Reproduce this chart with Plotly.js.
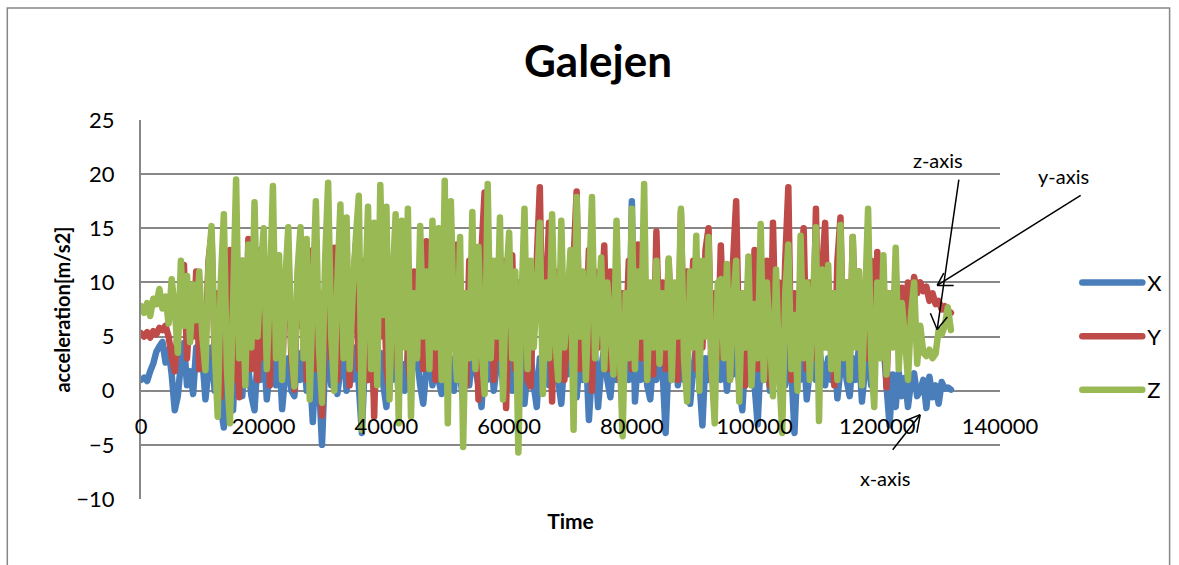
<!DOCTYPE html>
<html>
<head>
<meta charset="utf-8">
<script src="https://cdn.plot.ly/plotly-3.0.1.min.js"></script>
<style>
html,body{margin:0;padding:0;background:#fff;}
#chart{width:1179px;height:565px;}
.scatterlayer .js-line{stroke-linejoin:round !important;stroke-linecap:round !important;}
.legendlines path{stroke-linecap:round !important;}
</style>
</head>
<body>
<div id="chart"></div>
<script>
// sample spacing of the recording (time units per sample)
const timeStart = 0;
const timeStep = 500;

const seriesNames = ["X", "Y", "Z"];

const xAccel = [
1.0,1.2,0.9,1.8,2.5,3.6,4.1,4.5,2.6,3.8,
1.5,-1.8,-0.5,2.5,4.4,0.5,1.8,-0.3,4.0,2.0,
3.0,-0.8,2.0,4.0,0.0,2.5,-1.5,-3.4,3.0,0.5,
-1.8,4.0,1.0,-0.5,3.0,2.0,-0.5,-1.8,3.0,1.0,
4.0,-0.8,2.0,3.5,0.5,4.0,-1.7,1.5,3.0,0.0,
-0.5,3.5,1.0,4.0,0.0,2.0,-2.9,3.0,1.0,-5.0,
2.5,4.0,0.5,3.0,-0.3,2.0,4.5,0.0,3.0,1.0,
4.0,0.5,-3.9,3.0,1.0,4.0,-0.5,2.0,3.5,0.5,
-1.5,3.0,1.0,4.0,-0.5,2.5,0.0,3.5,1.0,4.0,
3.0,0.5,-1.2,2.0,4.0,0.5,3.0,1.0,-0.3,4.0,
1.0,3.0,0.0,4.0,1.5,-1.0,3.0,0.5,4.0,2.0,
0.5,-1.5,3.0,1.0,4.0,0.0,2.5,4.0,0.5,2.0,
4.0,0.0,3.0,1.0,4.0,-1.2,2.0,3.5,0.5,-1.5,
3.0,1.0,4.0,0.5,2.0,4.0,1.0,-1.2,3.0,1.5,
4.0,2.0,-0.6,3.0,1.0,4.0,-2.7,2.0,3.5,-1.5,
2.0,4.0,1.0,-0.6,3.0,1.0,4.0,0.5,3.0,1.0,
17.5,-1.0,3.0,1.0,4.0,0.5,-0.8,3.0,1.0,4.0,
2.0,-3.9,3.0,1.0,4.0,0.5,3.0,1.0,4.0,-1.2,
2.0,4.0,1.0,-3.2,3.0,1.0,4.0,0.5,3.0,1.0,
4.0,0.0,3.0,1.5,4.0,0.5,-1.8,3.0,1.0,4.0,
0.5,-3.1,3.0,1.0,4.0,0.0,2.5,4.0,1.0,3.0,
0.5,4.0,2.0,-3.9,3.0,1.0,4.0,-0.8,2.0,3.5,
1.0,4.0,2.0,0.5,3.0,1.0,4.0,-0.7,2.0,3.5,
1.0,-0.5,3.0,1.0,4.0,-1.0,2.0,3.5,0.5,4.0,
5.9,3.5,4.5,0.5,-3.2,1.5,-1.5,1.7,-0.5,1.2,
-1.5,0.8,1.6,-0.5,0.0,1.0,-1.6,1.3,-0.6,0.5,
-1.2,0.8,0.2,0.3,0.1
];

const yAccel = [
5.3,5.0,5.4,4.9,5.5,5.2,5.8,5.6,6.0,5.0,
3.1,1.8,6.0,9.0,11.6,3.0,8.0,5.0,11.0,2.0,
7.0,4.0,12.0,14.5,3.0,9.0,-0.6,11.0,5.0,13.0,
1.0,10.0,-0.6,12.0,4.0,14.0,2.0,9.0,1.0,13.0,
3.0,10.0,0.5,12.0,5.0,11.0,2.0,9.0,13.0,3.0,
0.1,10.0,6.0,12.0,1.0,8.0,13.0,2.0,9.0,-2.3,
7.0,11.0,3.0,13.2,1.0,10.0,4.0,12.0,0.5,9.0,
13.5,2.0,8.0,12.0,1.0,10.0,-2.4,9.0,5.0,12.0,
2.0,0.0,11.0,5.0,1.0,10.0,13.3,3.0,0.0,11.0,
4.0,9.0,2.0,13.8,5.0,10.0,1.0,12.0,4.0,8.0,
1.0,11.0,4.0,13.5,2.0,9.0,0.5,12.0,5.0,10.0,
-0.8,13.0,18.3,4.0,11.0,1.0,9.0,3.0,12.0,-1.6,
8.0,12.5,2.0,10.0,4.0,11.0,1.0,0.4,9.0,12.0,
18.8,2.0,9.0,15.5,-1.0,11.0,4.0,12.0,1.0,9.0,
3.0,12.0,18.4,2.0,10.0,5.0,13.0,0.0,11.0,4.0,
8.0,13.4,2.0,11.0,5.0,12.0,1.0,9.0,4.0,12.0,
2.0,10.0,13.5,3.0,11.0,1.0,9.0,1.5,14.7,4.0,
10.0,2.0,12.0,5.0,9.0,1.0,16.5,3.0,11.0,5.0,
12.0,2.0,10.0,4.0,13.0,15.0,1.0,9.0,3.0,13.4,
5.0,10.0,1.0,12.0,17.5,3.0,9.0,0.5,11.0,4.0,
13.0,2.0,10.0,5.0,12.0,0.5,15.5,3.0,10.0,2.0,
12.0,18.8,1.0,9.0,4.0,11.0,15.0,2.0,10.0,3.0,
16.8,1.0,11.0,15.5,4.0,9.0,0.5,12.0,16.0,3.0,
10.0,2.0,14.2,5.0,11.0,1.0,9.0,3.0,12.0,2.0,
12.8,4.0,10.7,0.3,9.0,5.0,11.0,3.8,9.5,6.0,
10.0,8.0,10.5,9.0,10.0,9.2,9.6,8.3,9.0,8.0,
8.3,7.5,7.8,7.0,7.2
];

const zAccel = [
7.8,7.2,8.1,6.9,8.5,8.0,9.4,7.6,8.7,6.2,
10.3,7.5,3.5,12.0,6.0,10.6,4.5,9.8,6.5,11.0,
5.0,1.9,11.5,15.2,4.0,-2.4,10.0,16.3,2.0,-3.0,
8.0,19.5,3.0,12.0,0.5,13.5,4.0,17.4,5.0,11.0,
15.0,2.0,9.0,18.9,3.0,12.5,1.0,10.0,15.1,4.0,
0.4,11.0,15.1,3.0,14.0,-0.8,9.0,17.5,4.0,-1.1,
12.0,19.2,5.0,0.0,10.0,17.2,3.0,16.0,2.0,9.0,
14.0,18.0,-3.6,8.0,17.0,2.0,15.5,0.5,19.0,7.0,
17.0,-0.8,10.0,16.3,-3.0,15.7,4.0,16.8,-2.4,9.0,
3.0,15.2,5.0,11.0,2.0,15.7,4.0,15.0,1.0,19.4,
-3.0,17.5,6.0,1.0,14.2,-5.2,9.0,3.0,16.5,2.0,
13.3,4.0,-0.3,19.1,3.0,12.0,5.0,16.0,-0.8,10.0,
14.6,3.0,11.0,-5.7,8.0,16.8,2.0,12.0,4.0,9.0,
15.5,-0.3,10.0,3.0,16.3,5.0,1.0,15.7,4.0,8.0,
13.0,-3.6,17.9,5.0,11.0,1.0,9.0,17.9,3.0,7.0,
12.3,2.0,10.0,6.0,1.5,15.7,4.0,-4.2,9.0,3.0,
16.8,2.0,11.0,5.0,19.1,1.0,10.0,4.0,12.0,2.5,
9.0,4.0,12.2,1.0,10.0,5.0,16.8,3.0,-1.0,11.0,
4.0,14.3,0.0,12.0,5.0,14.2,2.0,-3.0,10.0,10.3,
3.0,11.7,1.0,8.0,12.0,-1.0,9.0,4.0,12.4,0.5,
8.0,3.0,15.4,1.0,10.0,5.0,-0.5,11.2,2.0,-3.9,
9.0,13.5,2.0,7.0,0.0,14.3,3.0,10.0,1.0,8.0,
15.1,-2.8,11.2,4.0,11.6,2.0,9.0,1.0,15.3,3.0,
10.0,1.0,14.2,4.0,11.0,0.5,8.0,16.8,3.0,-1.5,
10.0,3.0,12.5,1.5,9.0,4.0,13.2,2.0,8.1,5.0,
1.0,7.0,10.0,2.5,6.0,3.5,3.2,3.8,3.0,3.4,
5.6,5.2,6.0,7.7,5.6
];

const seriesColors = ["#4A7EBB", "#BE4B48", "#98B954"];
const allSeries = [xAccel, yAccel, zAccel];

const FONT = "Lato, 'Open Sans', sans-serif";

const traces = allSeries.map((vals, k) => ({
  type: "scatter",
  mode: "lines",
  name: seriesNames[k],
  legendgroup: seriesNames[k],
  x0: timeStart,
  dx: timeStep,
  y: vals,
  line: {color: seriesColors[k], width: 6.5, simplify: false},
  hoverinfo: "skip"
}));

const annFont = {family: FONT, size: 20, color: "#000"};

// callout arrows: tip in data units, tail / arrowhead arms as pixel offsets
function calloutLine(x, y, ax, ay) {
  return {xref: "x", yref: "y", x: x, y: y, ax: ax, ay: ay, text: " ",
          font: {size: 1}, showarrow: true, arrowhead: 0, arrowwidth: 1.5,
          arrowcolor: "#000", standoff: 0, startstandoff: 0};
}

const callouts = [
  // z-axis
  calloutLine(129756, 5.65, 22, -152),
  calloutLine(129756, 5.65, -7.6, -18.3),
  calloutLine(129756, 5.65, 11.7, -14.3),
  // y-axis
  calloutLine(129756, 9.72, 145, -91),
  calloutLine(129756, 9.72, 18, 0),
  calloutLine(129756, 9.72, 7.7, -14.3),
  // x-axis
  calloutLine(126992, -2.22, -29, 37),
  calloutLine(126992, -2.22, -17, 6.7),
  calloutLine(126992, -2.22, -3.7, 20)
];

const layout = {
  width: 1179,
  height: 565,
  margin: {l: 141, r: 177, t: 120, b: 66},
  paper_bgcolor: "#ffffff",
  plot_bgcolor: "#ffffff",
  font: {family: FONT, color: "#000"},
  title: {
    text: "Galejen",
    font: {family: FONT, size: 44, color: "#000", weight: "bold"},
    x: 598 / 1179, xref: "container", xanchor: "center",
    y: 1 - 62 / 565, yref: "container", yanchor: "middle"
  },
  showlegend: true,
  legend: {
    x: 1.09, xanchor: "left",
    y: 0.626, yanchor: "top",
    font: {family: FONT, size: 22, color: "#000"},
    traceorder: "grouped",
    tracegroupgap: 22,
    itemwidth: 60,
    bgcolor: "rgba(0,0,0,0)"
  },
  xaxis: {
    range: [0, 140000],
    dtick: 20000,
    tick0: 0,
    showgrid: false,
    zeroline: false,
    showline: false,
    ticks: "",
    anchor: "free",
    position: 10 / 35,
    tickfont: {family: FONT, size: 22, color: "#000"},
    ticklabelstandoff: 20,
    tickformat: "d",
    title: {text: "Time", font: {family: FONT, size: 21, color: "#000", weight: "bold"}, standoff: 76}
  },
  yaxis: {
    range: [-10, 25],
    dtick: 5,
    tick0: 0,
    showgrid: true,
    gridcolor: "#878787",
    gridwidth: 2,
    zeroline: false,
    showline: true,
    linecolor: "#878787",
    linewidth: 2,
    ticks: "",
    tickfont: {family: FONT, size: 22, color: "#000"},
    ticklabelstandoff: 20,
    title: {text: "acceleration[m/s2]", font: {family: FONT, size: 20, color: "#000", weight: "bold"}, standoff: 0}
  },
  shapes: [{
    type: "rect", xref: "paper", yref: "paper",
    x0: (7 - 141) / 861, x1: (1172 - 141) / 861,
    y0: (499 - 575) / 379, y1: (499 - 8) / 379,
    line: {color: "#868686", width: 1.5},
    fillcolor: "rgba(0,0,0,0)",
    layer: "below"
  }],
  annotations: [
    {xref: "paper", yref: "paper", x: (940 - 141) / 861, y: (499 - 160) / 379, text: "z-axis", showarrow: false, font: annFont, xanchor: "center", yanchor: "middle"},
    {xref: "paper", yref: "paper", x: (1066 - 141) / 861, y: (499 - 176) / 379, text: "y-axis", showarrow: false, font: annFont, xanchor: "center", yanchor: "middle"},
    {xref: "paper", yref: "paper", x: (887 - 141) / 861, y: (499 - 478) / 379, text: "x-axis", showarrow: false, font: annFont, xanchor: "center", yanchor: "middle"}
  ].concat(callouts)
};

Plotly.newPlot("chart", traces, layout, {displayModeBar: false, staticPlot: true});
</script>
</body>
</html>
